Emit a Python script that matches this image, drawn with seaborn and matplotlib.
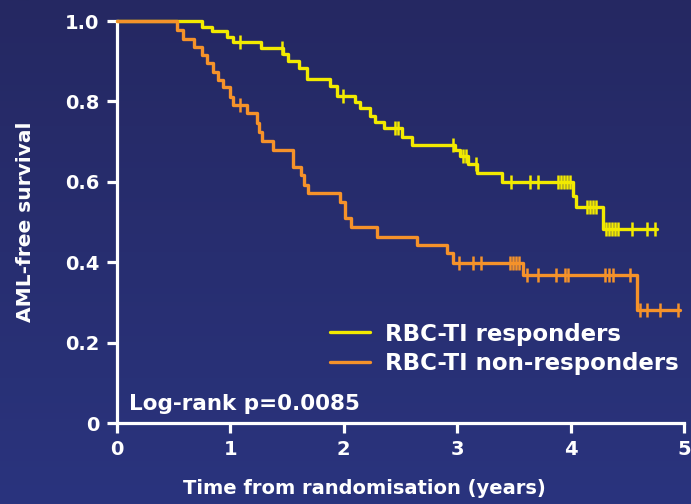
import numpy as np
import pandas as pd
import matplotlib
matplotlib.use("Agg")
import matplotlib.pyplot as plt
from matplotlib.lines import Line2D
import seaborn as sns

# Kaplan-Meier step curves (time in years, survival after each event)
resp_times = [0.0, 0.750, 0.838, 0.970, 1.023, 1.270, 1.464, 1.508, 1.605, 1.675,
              1.878, 1.940, 2.099, 2.143, 2.231, 2.275, 2.354, 2.513, 2.601, 2.981,
              3.025, 3.095, 3.175, 3.395, 4.021, 4.048, 4.286, 4.762]
resp_surv = [1.0, 0.985, 0.975, 0.960, 0.948, 0.933, 0.918, 0.900, 0.883, 0.856,
             0.838, 0.813, 0.799, 0.784, 0.764, 0.749, 0.734, 0.711, 0.692, 0.679,
             0.664, 0.644, 0.622, 0.600, 0.565, 0.537, 0.483, 0.483]
resp_censor = [1.085, 1.455, 1.993, 2.451, 2.478, 2.963, 3.051, 3.078, 3.166, 3.474,
               3.642, 3.713, 3.889, 3.915, 3.942, 3.968, 3.995, 4.145, 4.171, 4.198,
               4.224, 4.312, 4.339, 4.365, 4.392, 4.418, 4.541, 4.674, 4.744]

nonresp_times = [0.0, 0.529, 0.582, 0.679, 0.750, 0.794, 0.847, 0.891, 0.935, 0.996,
                 1.023, 1.146, 1.235, 1.252, 1.279, 1.376, 1.552, 1.623, 1.649, 1.684,
                 1.966, 2.011, 2.063, 2.293, 2.646, 2.910, 2.963, 3.580, 4.586, 4.965]
nonresp_surv = [1.0, 0.978, 0.955, 0.935, 0.915, 0.896, 0.873, 0.853, 0.836, 0.811,
                0.791, 0.771, 0.746, 0.724, 0.701, 0.679, 0.637, 0.617, 0.592, 0.572,
                0.550, 0.510, 0.488, 0.463, 0.443, 0.423, 0.398, 0.368, 0.281, 0.281]
nonresp_censor = [1.085, 3.016, 3.139, 3.210, 3.466, 3.492, 3.519, 3.545, 3.616, 3.713,
                  3.871, 3.951, 3.977, 4.303, 4.339, 4.374, 4.524, 4.612, 4.674, 4.788,
                  4.947]

labels = ["RBC-TI responders", "RBC-TI non-responders"]
x_ticks = [0, 1, 2, 3, 4, 5]
y_ticks = [0, 0.2, 0.4, 0.6, 0.8, 1.0]
y_tick_labels = ["0", "0.2", "0.4", "0.6", "0.8", "1.0"]
pvalue_text = "Log-rank p=0.0085"

YELLOW = "#f2ea00"
ORANGE = "#f5922a"
WHITE = "#ffffff"

sns.set_theme(style="white")
plt.rcParams["font.family"] = ["DejaVu Sans"]
plt.rcParams["font.weight"] = "bold"


def level_at(times, surv, t):
    idx = np.searchsorted(times, t, side="right") - 1
    return np.asarray(surv)[idx]


fig = plt.figure(figsize=(6.91, 5.04), dpi=100)

# navy gradient background
bg = fig.add_axes([0, 0, 1, 1], zorder=-10)
grad = np.linspace(0, 1, 256).reshape(-1, 1)
top = np.array([37, 40, 98]) / 255
bot = np.array([42, 52, 126]) / 255
img = top + (bot - top) * grad[..., None]
bg.imshow(img.reshape(256, 1, 3), aspect="auto", extent=[0, 1, 0, 1])
bg.axis("off")

ax = fig.add_axes([0.1693, 0.1607, 0.8206, 0.7976])
ax.set_facecolor("none")

curves = [
    (resp_times, resp_surv, resp_censor, YELLOW, labels[0]),
    (nonresp_times, nonresp_surv, nonresp_censor, ORANGE, labels[1]),
]
for i, (t, s, c, col, lab) in enumerate(curves):
    df = pd.DataFrame({"time": t, "surv": s})
    sns.lineplot(data=df, x="time", y="surv", ax=ax, color=col, lw=2.4,
                 drawstyle="steps-post", estimator=None, sort=False,
                 zorder=3 + i, clip_on=False)
    cf = pd.DataFrame({"time": c, "surv": level_at(t, s, c)})
    sns.scatterplot(data=cf, x="time", y="surv", ax=ax, color=col, marker="|",
                    s=110, linewidth=1.8, zorder=3 + i, clip_on=False)

ax.set_xlim(0, 5)
ax.set_ylim(0, 1)
ax.set_xticks(x_ticks)
ax.set_xticklabels([str(v) for v in x_ticks])
ax.set_yticks(y_ticks)
ax.set_yticklabels(y_tick_labels)

for side in ["top", "right"]:
    ax.spines[side].set_visible(False)
for side in ["left", "bottom"]:
    ax.spines[side].set_color(WHITE)
    ax.spines[side].set_linewidth(2.3)
ax.tick_params(axis="both", which="major", direction="out", length=7.5,
               width=2.3, color=WHITE, labelcolor=WHITE, labelsize=14, pad=5,
               left=True, bottom=True)
for lab in ax.get_xticklabels() + ax.get_yticklabels():
    lab.set_fontweight("bold")

ax.set_xlabel("Time from randomisation (years)", color=WHITE, fontsize=14,
              fontweight="bold")
ax.xaxis.set_label_coords(0.436, -0.140)
ax.set_ylabel("AML-free survival", color=WHITE, fontsize=14.5,
              fontweight="bold")
ax.yaxis.set_label_coords(-0.145, 0.5)

ax.text(0.022, 0.047, pvalue_text, transform=ax.transAxes, color=WHITE,
        fontsize=15.5, fontweight="bold", va="center", ha="left")

handles = [Line2D([0], [0], color=YELLOW, lw=2.4),
           Line2D([0], [0], color=ORANGE, lw=2.4)]
leg = ax.legend(handles, labels, loc="upper left", bbox_to_anchor=(0.376, 0.250),
                frameon=False, handlelength=1.75, handletextpad=0.65,
                labelspacing=0.30, borderpad=0, borderaxespad=0,
                prop={"weight": "bold", "size": 16.5})
for txt in leg.get_texts():
    txt.set_color(WHITE)

fig.savefig("out.png", dpi=100)
